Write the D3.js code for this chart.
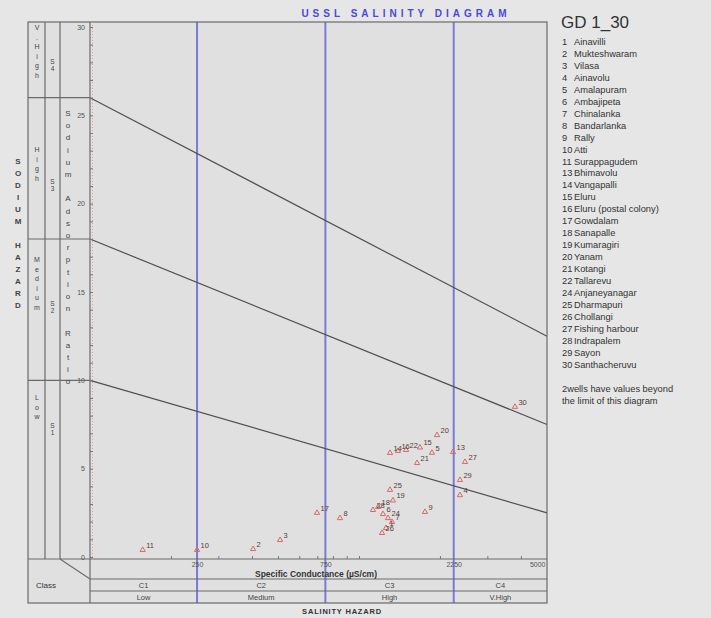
<!DOCTYPE html>
<html>
<head>
<meta charset="utf-8">
<script src="https://cdn.jsdelivr.net/npm/d3@7"></script>
<style>
  body { margin: 0; background: #e6e6e6; }
  svg { display: block; font-family: "Liberation Sans", Arial, sans-serif; }
</style>
</head>
<body>
<svg id="chart" width="711" height="618"></svg>
<script>
// well data (EC in uS/cm, SAR)
const wellIds = [1, 2, 3, 4, 5, 6, 7, 8, 9, 10, 11, 13, 14, 15, 16, 17, 18, 19, 20, 21, 22, 24, 25, 26, 27, 28, 29, 30];
const ecValues = [1260, 404, 509, 2373, 1867, 1228, 1327, 850, 1759, 250, 157, 2236, 1304, 1685, 1396, 698, 1178, 1337, 1950, 1644, 1496, 1282, 1304, 1218, 2478, 1127, 2373, 3800];
const sarValues = [1.64, 0.45, 0.96, 3.5, 5.9, 2.43, 1.98, 2.2, 2.55, 0.4, 0.4, 5.94, 5.89, 6.2, 6.0, 2.5, 2.83, 3.2, 6.9, 5.32, 6.06, 2.2, 3.8, 1.36, 5.38, 2.66, 4.36, 8.5];
const wellNames = ["Ainavilli", "Mukteshwaram", "Vilasa", "Ainavolu", "Amalapuram", "Ambajipeta", "Chinalanka", "Bandarlanka", "Rally", "Atti", "Surappagudem", "Bhimavolu", "Vangapalli", "Eluru", "Eluru (postal colony)", "Gowdalam", "Sanapalle", "Kumaragiri", "Yanam", "Kotangi", "Tallarevu", "Anjaneyanagar", "Dharmapuri", "Chollangi", "Fishing harbour", "Indrapalem", "Sayon", "Santhacheruvu"];

// class boundaries
const ecBounds = [250, 750, 2250];
const sarAt100 = [10, 18, 26];
const sarAt5000 = [2.5, 7.5, 12.5];
const ecTickLabels = [250, 750, 2250, 5000];
const ecMinorTicks = [200, 300, 400, 500, 600, 700, 800, 900, 1000, 2000, 3000, 4000];
const sarTickLabels = [0, 5, 10, 15, 20, 25, 30];
const salClasses = ["C1", "C2", "C3", "C4"];
const salNames = ["Low", "Medium", "High", "V.High"];
const sodClasses = ["S1", "S2", "S3", "S4"];
const sodNames = ["Low", "Medium", "High", "V.High"];

const svg = d3.select("#chart");

const pLeft = 90, pRight = 547, pTop = 22, pBottom = 557;
const frameLeft = 28, frameBottom = 603;

const x = d3.scaleLog().domain([100, 5000]).range([pLeft, pRight]);
const y = d3.scaleLinear().domain([0, 30]).range([pBottom, 27]);

// plot background
svg.append("rect").attr("x", frameLeft).attr("y", pTop)
  .attr("width", pRight - frameLeft).attr("height", frameBottom - pTop)
  .attr("fill", "#e0e0e0");

// title
svg.append("text").attr("x", 406).attr("y", 17).attr("text-anchor", "middle")
  .attr("font-size", 10).attr("font-weight", "bold").attr("letter-spacing", 4)
  .attr("fill", "#4a4ad6").text("USSL SALINITY DIAGRAM");

// salinity boundaries (blue verticals)
svg.selectAll(".ecb").data(ecBounds).join("line")
  .attr("x1", d => x(d)).attr("x2", d => x(d))
  .attr("y1", pTop).attr("y2", frameBottom)
  .attr("stroke", "#7a7ad8").attr("stroke-width", 2);

// sodium hazard lines
svg.selectAll(".sodl").data(sarAt100).join("line")
  .attr("x1", x(100)).attr("y1", d => y(d))
  .attr("x2", x(5000)).attr("y2", (d, i) => y(sarAt5000[i]))
  .attr("stroke", "#505050").attr("stroke-width", 1.2);

// frame + row/column lines
const g = svg.append("g").attr("stroke", "#6a6a6a").attr("stroke-width", 1.2).attr("fill", "none");
g.append("rect").attr("x", frameLeft).attr("y", pTop).attr("width", pRight - frameLeft).attr("height", frameBottom - pTop);
g.append("line").attr("x1", pLeft).attr("x2", pLeft).attr("y1", pTop).attr("y2", frameBottom);
[45, 60].forEach(cx => g.append("line").attr("x1", cx).attr("x2", cx).attr("y1", pTop).attr("y2", pBottom + 2));
g.append("line").attr("x1", frameLeft).attr("x2", pRight).attr("y1", pBottom + 2).attr("y2", pBottom + 2);
[579, 591].forEach(cy => g.append("line").attr("x1", pLeft).attr("x2", pRight).attr("y1", cy).attr("y2", cy));
g.append("line").attr("x1", 60).attr("y1", pBottom + 2).attr("x2", pLeft).attr("y2", 579);
// horizontal separators in the sodium columns
sarAt100.forEach(s => g.append("line").attr("x1", frameLeft).attr("x2", pLeft).attr("y1", y(s)).attr("y2", y(s)));

// pink dotted guide along the y axis
svg.append("line").attr("x1", pLeft + 2.5).attr("x2", pLeft + 2.5).attr("y1", pTop).attr("y2", pBottom)
  .attr("stroke", "#e0a0a0").attr("stroke-dasharray", "1,2");

// y axis
const yMinor = d3.axisRight(y).ticks(30).tickSize(3).tickFormat("");
svg.append("g").attr("transform", `translate(${pLeft},0)`).call(yMinor)
  .call(s => s.select(".domain").remove())
  .selectAll("line").attr("stroke", "#777");
const yAxis = d3.axisLeft(y).tickValues(sarTickLabels).tickSize(0).tickPadding(5);
svg.append("g").attr("transform", `translate(${pLeft},0)`).call(yAxis)
  .call(s => s.select(".domain").remove())
  .selectAll("text").attr("font-size", 7).attr("fill", "#555");

// x axis
const xMinor = d3.axisTop(x).tickValues(ecMinorTicks).tickSize(3).tickFormat("");
svg.append("g").attr("transform", `translate(0,${pBottom + 2})`).call(xMinor)
  .call(s => s.select(".domain").remove())
  .selectAll("line").attr("stroke", "#777");
const xAxis = d3.axisBottom(x).tickValues(ecTickLabels).tickSize(0).tickPadding(3).tickFormat(d3.format("d"));
svg.append("g").attr("transform", `translate(0,${pBottom + 2})`).call(xAxis)
  .call(s => s.select(".domain").remove())
  .selectAll("text").attr("font-size", 7).attr("fill", "#555")
  .attr("text-anchor", d => d === 5000 ? "end" : "middle")
  .attr("dx", d => d === 5000 ? -2 : 0);

svg.append("text").attr("x", 316).attr("y", 577).attr("text-anchor", "middle")
  .attr("font-size", 8.5).attr("font-weight", "bold").attr("fill", "#333")
  .text("Specific Conductance (\u00b5S/cm)");

// salinity class rows
const edges = [100, 250, 750, 2250, 5000];
const mids = edges.slice(0, 4).map((e, i) => (x(e) + x(edges[i + 1])) / 2);
svg.selectAll(".cl").data(salClasses).join("text")
  .attr("x", (d, i) => mids[i]).attr("y", 588).attr("text-anchor", "middle")
  .attr("font-size", 7.5).attr("fill", "#444").text(d => d);
svg.selectAll(".cn").data(salNames).join("text")
  .attr("x", (d, i) => mids[i]).attr("y", 600).attr("text-anchor", "middle")
  .attr("font-size", 7.5).attr("fill", "#444").text(d => d);
svg.append("text").attr("x", 46).attr("y", 588).attr("text-anchor", "middle")
  .attr("font-size", 8).attr("fill", "#333").text("Class");
svg.append("text").attr("x", 342).attr("y", 614).attr("text-anchor", "middle")
  .attr("font-size", 7.5).attr("font-weight", "bold").attr("letter-spacing", 0.8)
  .attr("fill", "#333").text("SALINITY HAZARD");

// stacked (upright, one letter below the other) text
function stacked(str, cx, cy0, step, size, weight) {
  const t = svg.append("text").attr("font-size", size).attr("fill", "#444")
    .attr("font-weight", weight || "normal").attr("text-anchor", "middle");
  str.split("").forEach((ch, i) => {
    t.append("tspan").attr("x", cx).attr("y", cy0 + i * step).text(ch === " " ? "\u00a0" : ch);
  });
}
stacked("SODIUM HAZARD", 18, 164, 12, 8, "bold");
stacked("Sodium Adsorption Ratio", 68, 116, 12.2, 8);
const sodNameY = [400, 262, 152, 30];
sodNames.forEach((n, i) => stacked(n, 37, sodNameY[i], 9.5, 7));
const sodLabelY = [428, 306, 184, 64];
sodClasses.forEach((c, i) => stacked(c, 52.5, sodLabelY[i], 7, 6.5));

// wells
const pts = wellIds.map((id, i) => ({ id, ec: ecValues[i], sar: sarValues[i] }));
svg.selectAll(".mk").data(pts).join("path")
  .attr("transform", d => `translate(${x(d.ec)},${y(d.sar)})`)
  .attr("d", d3.symbol(d3.symbolTriangle, 12))
  .attr("fill", "none").attr("stroke", "#d46a6a").attr("stroke-width", 1);
svg.selectAll(".lb").data(pts).join("text")
  .attr("x", d => x(d.ec) + 3.5).attr("y", d => y(d.sar) - 2)
  .attr("font-size", 7.5).attr("fill", "#5a3a3a").text(d => d.id);

// legend
const lg = svg.append("g").attr("fill", "#333");
lg.append("text").attr("x", 561).attr("y", 28).attr("font-size", 17).text("GD 1_30");
wellIds.forEach((id, i) => {
  const ly = 45 + i * 11.95;
  lg.append("text").attr("x", 562).attr("y", ly).attr("font-size", 9.3).text(id);
  lg.append("text").attr("x", 574).attr("y", ly).attr("font-size", 9.3).text(wellNames[i]);
});
lg.append("text").attr("x", 562).attr("y", 392).attr("font-size", 9.3).text("2wells have values beyond");
lg.append("text").attr("x", 562).attr("y", 404).attr("font-size", 9.3).text("the limit of this diagram");
</script>
</body>
</html>
